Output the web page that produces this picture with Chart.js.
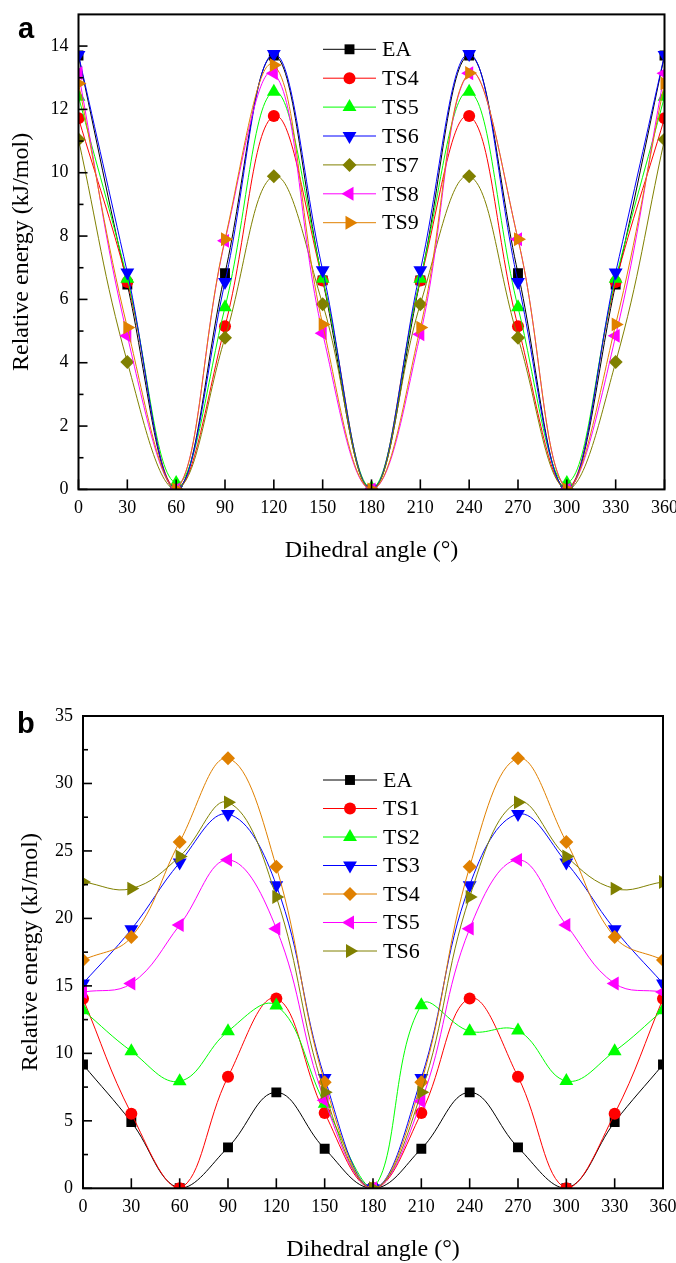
<!DOCTYPE html>
<html>
<head>
<meta charset="utf-8">
<script src="https://cdn.jsdelivr.net/npm/chart.js@4.4.0/dist/chart.umd.min.js"></script>
<style>
  html, body { margin: 0; padding: 0; background: #fff; }
  body { width: 676px; height: 1263px; position: relative; overflow: hidden; }
  .panel { position: absolute; left: 0; width: 676px; }
  #wrapA { top: 0; height: 600px; }
  #wrapB { top: 620px; height: 643px; }
  .tag { position: absolute; font: bold 29px "Liberation Sans", Arial, sans-serif; color: #000; }
</style>
</head>
<body>
<div class="panel" id="wrapA"><canvas id="chartA" width="676" height="600"></canvas></div>
<div class="panel" id="wrapB"><canvas id="chartB" width="676" height="643"></canvas></div>
<div class="tag" style="left:18px; top:12px;">a</div>
<div class="tag" style="left:17px; top:707px;">b</div>
<script>
// dihedral angles (deg)
const angles = [0, 30, 60, 90, 120, 150, 180, 210, 240, 270, 300, 330, 360];
const xTickLabels = [0, 30, 60, 90, 120, 150, 180, 210, 240, 270, 300, 330, 360];
const yTicksA = [0, 2, 4, 6, 8, 10, 12, 14];
const yTicksB = [0, 5, 10, 15, 20, 25, 30, 35];

// panel a, relative energy (kJ/mol)
const eaA  = [13.7, 6.47, 0.0, 6.83, 13.7, 6.6, 0.0, 6.6, 13.7, 6.83, 0.0, 6.47, 13.7];
const ts4A = [11.72, 6.55, 0.0, 5.15, 11.79, 6.6, 0.0, 6.6, 11.79, 5.15, 0.0, 6.55, 11.72];
const ts5A = [12.4, 6.65, 0.2, 5.75, 12.56, 6.65, 0.05, 6.65, 12.56, 5.75, 0.2, 6.65, 12.4];
const ts6A = [13.72, 6.85, 0.0, 6.55, 13.75, 6.92, 0.0, 6.92, 13.75, 6.55, 0.0, 6.85, 13.72];
const ts7A = [11.05, 4.02, 0.0, 4.79, 9.89, 5.85, 0.0, 5.85, 9.89, 4.79, 0.0, 4.02, 11.05];
const ts8A = [13.14, 4.85, 0.0, 7.85, 13.14, 4.93, 0.0, 4.9, 13.14, 7.9, 0.0, 4.85, 13.14];
const ts9A = [12.82, 5.11, 0.0, 7.9, 13.4, 5.21, 0.0, 5.11, 13.15, 7.9, 0.0, 5.21, 12.82];

// panel b
const eaB  = [9.17, 4.91, 0.0, 3.03, 7.11, 2.93, 0.0, 2.93, 7.11, 3.03, 0.0, 4.91, 9.17];
const ts1B = [14.05, 5.53, 0.0, 8.26, 14.07, 5.58, 0.0, 5.58, 14.07, 8.26, 0.0, 5.53, 14.05];
const ts2B = [13.2, 10.16, 7.93, 11.64, 13.55, 6.27, 0.0, 13.57, 11.64, 11.69, 7.95, 10.16, 13.2];
const ts3B = [15.18, 19.19, 24.14, 27.73, 22.46, 8.18, 0.0, 8.18, 22.46, 27.73, 24.14, 19.19, 15.18];
const ts4B = [16.91, 18.62, 25.67, 31.86, 23.82, 7.86, 0.0, 7.86, 23.82, 31.86, 25.67, 18.62, 16.91];
const ts5B = [14.54, 15.18, 19.51, 24.34, 19.24, 6.52, 0.0, 6.45, 19.24, 24.34, 19.51, 15.18, 14.54];
const ts6B = [22.7, 22.21, 24.59, 28.6, 21.59, 7.11, 0.0, 7.11, 21.59, 28.6, 24.59, 22.21, 22.7];

const SERIF = '"Liberation Serif", "Times New Roman", serif';
const ORANGE = '#e08000';

const seriesA = [
  { label: 'EA',  data: eaA,  color: '#000000', style: 'rect',     rot: 0,   r: 7 },
  { label: 'TS4', data: ts4A, color: '#ff0000', style: 'circle',   rot: 0,   r: 6 },
  { label: 'TS5', data: ts5A, color: '#00ff00', style: 'triangle', rot: 0,   r: 8 },
  { label: 'TS6', data: ts6A, color: '#0000ff', style: 'triangle', rot: 180, r: 8 },
  { label: 'TS7', data: ts7A, color: '#808000', style: 'rectRot',  rot: 0,   r: 7 },
  { label: 'TS8', data: ts8A, color: '#ff00ff', style: 'triangle', rot: -90, r: 8 },
  { label: 'TS9', data: ts9A, color: ORANGE,    style: 'triangle', rot: 90,  r: 8 }
];
const seriesB = [
  { label: 'EA',  data: eaB,  color: '#000000', style: 'rect',     rot: 0,   r: 7 },
  { label: 'TS1', data: ts1B, color: '#ff0000', style: 'circle',   rot: 0,   r: 6 },
  { label: 'TS2', data: ts2B, color: '#00ff00', style: 'triangle', rot: 0,   r: 8 },
  { label: 'TS3', data: ts3B, color: '#0000ff', style: 'triangle', rot: 180, r: 8 },
  { label: 'TS4', data: ts4B, color: ORANGE,    style: 'rectRot',  rot: 0,   r: 7 },
  { label: 'TS5', data: ts5B, color: '#ff00ff', style: 'triangle', rot: -90, r: 8 },
  { label: 'TS6', data: ts6B, color: '#808000', style: 'triangle', rot: 90,  r: 8 }
];

// frame box + inward tick marks
const frameTicks = {
  id: 'frameTicks',
  afterDraw(chart) {
    const { ctx, chartArea: a, scales: { x, y } } = chart;
    const seg = (x1, y1, x2, y2) => { ctx.beginPath(); ctx.moveTo(x1, y1); ctx.lineTo(x2, y2); ctx.stroke(); };
    ctx.save();
    ctx.strokeStyle = '#000';
    ctx.lineWidth = 1.6;
    x.ticks.forEach(t => {
      const px = x.getPixelForValue(t.value);
      seg(px, a.bottom, px, a.bottom - 10);
    });
    const yv = y.ticks.map(t => t.value);
    const step = yv[1] - yv[0];
    yv.forEach(v => {
      const py = y.getPixelForValue(v);
      seg(a.left, py, a.left + 9, py);
      const mid = v + step / 2;
      if (mid < y.max) {
        const pm = y.getPixelForValue(mid);
        seg(a.left, pm, a.left + 5, pm);
      }
    });
    ctx.lineWidth = 2;
    ctx.strokeRect(a.left, a.top, a.right - a.left, a.bottom - a.top);
    ctx.restore();
  }
};

// legend drawn inside the plot
const boxLegend = {
  id: 'boxLegend',
  afterDraw(chart, args, opts) {
    const ctx = chart.ctx;
    ctx.save();
    chart.data.datasets.forEach((ds, i) => {
      const y = opts.y + i * opts.gap;
      ctx.strokeStyle = ds.borderColor;
      ctx.lineWidth = 1;
      ctx.beginPath();
      ctx.moveTo(opts.x, y);
      ctx.lineTo(opts.x + opts.len, y);
      ctx.stroke();
      ctx.fillStyle = ds.pointBackgroundColor;
      Chart.helpers.drawPoint(ctx, {
        pointStyle: ds.pointStyle, rotation: ds.pointRotation,
        radius: ds.pointRadius, borderWidth: 0
      }, opts.x + opts.len / 2, y);
      ctx.fillStyle = '#000';
      ctx.font = '22px ' + SERIF;
      ctx.textBaseline = 'middle';
      ctx.textAlign = 'left';
      ctx.fillText(ds.label, opts.textX, y + 1);
    });
    ctx.restore();
  }
};

function makeChart(id, series, yTicks, yMax, cfg) {
  return new Chart(document.getElementById(id), {
    type: 'line',
    data: {
      datasets: series.map((s, i) => ({
        label: s.label,
        data: angles.map((a, k) => ({ x: a, y: s.data[k] })),
        borderColor: s.color,
        backgroundColor: s.color,
        borderWidth: 1,
        tension: 0.4,
        pointStyle: s.style,
        pointRotation: s.rot,
        pointRadius: s.r,
        pointBorderWidth: 0,
        pointBackgroundColor: s.color,
        clip: 0,
        order: -i
      }))
    },
    options: {
      responsive: false,
      animation: false,
      layout: { padding: { top: cfg.top, right: cfg.right, left: 0, bottom: 0 } },
      plugins: {
        legend: { display: false },
        tooltip: { enabled: false },
        boxLegend: cfg.legend
      },
      scales: {
        x: {
          type: 'linear', min: 0, max: 360,
          afterBuildTicks: s => { s.ticks = xTickLabels.map(v => ({ value: v })); },
          afterFit: s => { s.height = cfg.xAxisH; s.paddingLeft = 0; s.paddingRight = 0; },
          grid: { display: false, drawTicks: false },
          border: { display: false },
          ticks: { color: '#000', font: { family: SERIF, size: 18 }, padding: 8, maxRotation: 0, autoSkip: false },
          title: {
            display: true, text: 'Dihedral angle (°)', color: '#000',
            font: { family: SERIF, size: 24, lineHeight: 1 },
            padding: { top: 0, bottom: cfg.xTitlePad }
          }
        },
        y: {
          type: 'linear', min: 0, max: yMax,
          afterBuildTicks: s => { s.ticks = yTicks.map(v => ({ value: v })); },
          afterFit: s => { s.width = cfg.yAxisW; s.paddingTop = 0; s.paddingBottom = 0; },
          grid: { display: false, drawTicks: false },
          border: { display: false },
          ticks: { color: '#000', font: { family: SERIF, size: 18 }, padding: 10 },
          title: {
            display: true, text: 'Relative energy (kJ/mol)', color: '#000',
            font: { family: SERIF, size: 24, lineHeight: 1 },
            padding: { top: cfg.yTitlePad, bottom: 0 }
          }
        }
      }
    },
    plugins: [frameTicks, boxLegend]
  });
}

makeChart('chartA', seriesA, yTicksA, 15, {
  top: 14.4, right: 11.5, yAxisW: 78.5, xAxisH: 110.6,
  xTitlePad: 37, yTitlePad: 10,
  legend: { x: 323, y: 49.3, gap: 28.9, len: 53, textX: 382 }
});

makeChart('chartB', seriesB, yTicksB, 35, {
  top: 96, right: 13, yAxisW: 83, xAxisH: 74.7,
  xTitlePad: 1, yTitlePad: 19,
  legend: { x: 323, y: 160, gap: 28.5, len: 54, textX: 383 }
});
</script>
</body>
</html>
